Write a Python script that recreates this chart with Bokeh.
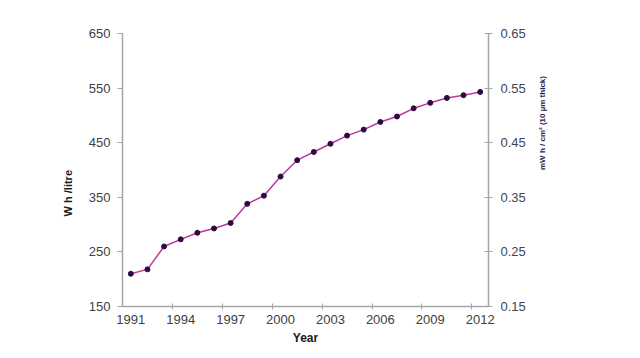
import math
from bokeh.plotting import figure
from bokeh.models import Range1d, LinearAxis, FixedTicker
from bokeh.embed import file_html
from bokeh.resources import INLINE

years = list(range(1991, 2013))
wh_per_litre = [210, 218, 260, 273, 285, 293, 303, 338, 353, 388, 418, 433,
                448, 463, 474, 488, 498, 513, 523, 532, 537, 543]
left_ticks = [150, 250, 350, 450, 550, 650]
right_ticks = [0.15, 0.25, 0.35, 0.45, 0.55, 0.65]
x_label_years = [1991, 1994, 1997, 2000, 2003, 2006, 2009, 2012]
x_tick_marks = [1993.5, 1996.5, 1999.5, 2002.5, 2005.5, 2008.5, 2011.5]

FONT = "Liberation Sans"
AXIS_COLOR = "#a6a6a6"

p = figure(width=632, height=350, output_backend="svg", toolbar_location=None,
           x_range=Range1d(1990.5, 2012.5), y_range=Range1d(150, 650),
           min_border_left=122, min_border_right=144, min_border_top=33,
           min_border_bottom=44, x_axis_location=None, y_axis_location=None)
p.outline_line_color = None
p.grid.visible = False
p.background_fill_color = "white"
p.border_fill_color = "white"

p.extra_y_ranges = {"right": Range1d(0.15, 0.65)}

# x axis
xa = LinearAxis(ticker=FixedTicker(ticks=x_label_years, minor_ticks=x_tick_marks),
                axis_label="Year")
xa.major_tick_in = 0
xa.major_tick_out = 0
xa.minor_tick_in = 3
xa.minor_tick_out = 3
xa.minor_tick_line_color = AXIS_COLOR
xa.axis_line_color = AXIS_COLOR
xa.axis_line_width = 1.5
xa.major_label_text_font = FONT
xa.major_label_text_font_size = "13px"
xa.major_label_text_color = "#404040"
xa.major_label_standoff = 5
xa.axis_label_text_font = FONT
xa.axis_label_text_font_style = "bold"
xa.axis_label_text_font_size = "12px"
xa.axis_label_text_color = "#1a1a1a"
xa.axis_label_standoff = 4
p.add_layout(xa, "below")

# left axis
ya = LinearAxis(ticker=FixedTicker(ticks=left_ticks), axis_label="W h /litre")
ya.major_tick_in = 0
ya.major_tick_out = 5
ya.minor_tick_line_color = None
ya.major_tick_line_color = AXIS_COLOR
ya.axis_line_color = AXIS_COLOR
ya.axis_line_width = 1.5
ya.major_label_text_font = FONT
ya.major_label_text_font_size = "13px"
ya.major_label_text_color = "#404040"
ya.major_label_standoff = 7
ya.axis_label_text_font = FONT
ya.axis_label_text_font_style = "bold"
ya.axis_label_text_font_size = "11px"
ya.axis_label_text_color = "#1a1a1a"
ya.axis_label_orientation = math.pi / 2
ya.axis_label_text_align = "left"
ya.axis_label_standoff = 18
p.add_layout(ya, "left")

# right axis
ra = LinearAxis(y_range_name="right", ticker=FixedTicker(ticks=right_ticks),
                axis_label="mW h / cm\u00b2 (10 \u00b5m thick)")
ra.major_tick_in = 4
ra.major_tick_out = 4
ra.minor_tick_line_color = None
ra.major_tick_line_color = AXIS_COLOR
ra.axis_line_color = AXIS_COLOR
ra.axis_line_width = 1.5
ra.major_label_text_font = FONT
ra.major_label_text_font_size = "13px"
ra.major_label_text_color = "#404455"
ra.major_label_standoff = 8
ra.axis_label_text_font = FONT
ra.axis_label_text_font_style = "bold"
ra.axis_label_text_font_size = "8px"
ra.axis_label_text_color = "#1f2350"
ra.axis_label_orientation = math.pi / 2
ra.axis_label_text_align = "left"
ra.axis_label_standoff = 14
p.add_layout(ra, "right")

p.line(years, wh_per_litre, line_color="#c4359a", line_width=1.5)
p.scatter(years, wh_per_litre, size=5, fill_color="#2c0b40", line_color="#2c0b40")

open("out.html", "w").write(file_html(p, INLINE))
